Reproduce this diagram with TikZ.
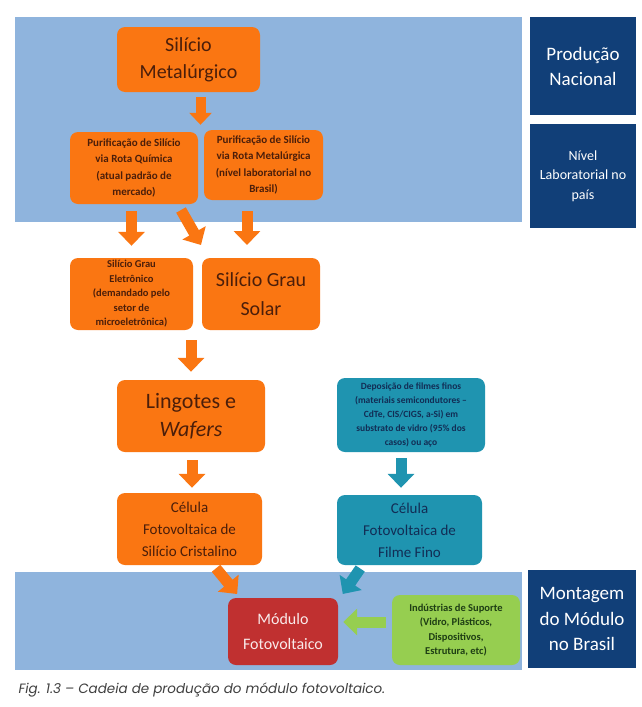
\documentclass[tikz,border=0pt]{standalone}
\usepackage{fontspec}
\setmainfont{Carlito}
\newfontfamily\legenda{Poppins}
\usetikzlibrary{positioning,arrows.meta}

\definecolor{faixa}{RGB}{143,180,221}
\definecolor{marinho}{RGB}{17,63,120}
\definecolor{laranja}{RGB}{250,118,18}
\definecolor{petroleo}{RGB}{31,148,176}
\definecolor{vinho}{RGB}{192,48,48}
\definecolor{verde}{RGB}{150,206,80}
\definecolor{txtlaranja}{RGB}{75,30,10}
\definecolor{txtpetroleo}{RGB}{18,45,85}
\definecolor{txtverde}{RGB}{30,62,20}

\begin{document}
\begin{tikzpicture}[
        x=1pt, y=-1pt,
        caixa/.style={fill=laranja, rounded corners=8pt, align=center, text=txtlaranja, inner sep=2pt},
        caixa_azul/.style={caixa, fill=petroleo, text=txtpetroleo},
        rotulo/.style={fill=marinho, align=center, text=white, inner sep=2pt},
        miuda/.style={font=\fontsize{10.5}{14.5}\selectfont\bfseries},
        media/.style={font=\fontsize{15}{22}\selectfont},
        grande/.style={font=\fontsize{20}{27}\selectfont},
        seta/.style={line width=11pt, draw=laranja, -{Triangle[width=26pt,length=14pt]}},
        seta_azul/.style={seta, draw=petroleo},
        seta_verde/.style={seta, draw=verde}
    ]
    \useasboundingbox[fill=white] (0,0) rectangle (641,707);

    % Faixas de fundo
    \fill[faixa] (15,17) rectangle (522,222);
    \fill[faixa] (15,572) rectangle (522,670);

    % Rotulos da direita
    \node[rotulo, minimum width=106, minimum height=98, font=\fontsize{19}{25}\selectfont] (pn) at (583,66) {Produção\\Nacional};
    \node[rotulo, minimum width=106, minimum height=104, font=\fontsize{14}{19.5}\selectfont] (nl) at (583,176) {Nível\\Laboratorial no\\país};
    \node[rotulo, minimum width=108, minimum height=98, font=\fontsize{19}{25.5}\selectfont] (mb) at (582,619) {Montagem\\do Módulo\\no Brasil};

    % Silicio
    \node[caixa, grande, minimum width=143, minimum height=65] (sm) at (188.5,59.5) {Silício\\Metalúrgico};
    \node[caixa, minimum width=128, minimum height=72, font=\fontsize{11}{16.5}\selectfont\bfseries] (pq) at (134,168) {Purificação de Silício\\via Rota Química\\(atual padrão de\\mercado)};
    \node[caixa, minimum width=119, minimum height=70, font=\fontsize{11}{16.5}\selectfont\bfseries] (pm) at (263.5,165) {Purificação de Silício\\via Rota Metalúrgica\\(nível laboratorial no\\Brasil)};
    \node[caixa, miuda, minimum width=123, minimum height=72] (ge) at (131.5,294) {Silício Grau\\Eletrônico\\(demandado pelo\\setor de\\microeletrônica)};
    \node[caixa, minimum width=118, minimum height=72, font=\fontsize{20}{29}\selectfont] (gs) at (261,294) {Silício Grau\\Solar};

    % Lingotes e celulas
    \node[caixa, minimum width=148, minimum height=72, font=\fontsize{22}{28}\selectfont] (lw) at (191,416) {Lingotes e\\\textit{Wafers}};
    \node[caixa, media, minimum width=145, minimum height=72] (cc) at (189.5,529) {Célula\\Fotovoltaica de\\Silício Cristalino};
    \node[caixa_azul, minimum width=148, minimum height=74, font=\fontsize{9.5}{14}\selectfont\bfseries] (df) at (411,415) {Deposição de filmes finos\\(materiais semicondutores –\\CdTe, CIS/CIGS, a-Si) em\\substrato de vidro (95\% dos\\casos) ou aço};
    \node[caixa_azul, media, minimum width=145, minimum height=70] (cf) at (409.5,530) {Célula\\Fotovoltaica de\\Filme Fino};

    % Modulo
    \node[caixa, fill=vinho, text=white!90!vinho, minimum width=110, minimum height=67, font=\fontsize{16}{25}\selectfont] (mf) at (283,631.5) {Módulo\\Fotovoltaico};
    \node[caixa, fill=verde, text=txtverde, miuda, minimum width=128, minimum height=70] (is) at (456,630) {Indústrias de Suporte\\(Vidro, Plásticos,\\Dispositivos,\\Estrutura, etc)};

    % Setas
    \coordinate (d1) at (181,210);
    \coordinate (d2) at (201,245);
    \coordinate (p1) at (247,211);
    \coordinate (p2) at (247,245);
    \draw[seta, line width=10pt, -{Triangle[width=22pt,length=12pt]}, shorten <=5pt, shorten >=5pt] ([xshift=12pt]sm.south) -- ([xshift=12pt]sm.south |- pm.north);
    \draw[seta, shorten <=7pt, shorten >=12pt] (ge.north |- pq.south) -- (ge.north);
    \draw[seta] (d1) -- (d2);
    \draw[seta] (p1) -- (p2);
    \draw[seta, shorten <=10pt, shorten >=8pt] (lw.north |- gs.south) -- (lw.north);
    \draw[seta, shorten <=8pt, shorten >=5pt] ([xshift=1pt]lw.south) -- ([xshift=1pt]lw.south |- cc.north);
    \draw[seta_azul, shorten <=6pt, shorten >=7pt] ([xshift=-10pt]df.south) -- ([xshift=-10pt]df.south |- cf.north);
    \draw[seta, shorten <=4pt, shorten >=1pt] ([xshift=24pt]cc.south) -- ([xshift=10pt,yshift=3pt]mf.north west);
    \draw[seta_azul, shorten <=4pt, shorten >=1pt] ([xshift=-47pt]cf.south) -- ([xshift=4pt,yshift=3pt]mf.north east);
    \draw[seta_verde, shorten <=6pt, shorten >=5pt] ([yshift=8pt]is.west) -- ([yshift=8pt]is.west -| mf.east);

    % Legenda
    \node[anchor=base west, text=black!75, font=\legenda\itshape\fontsize{13.5}{16}\selectfont] (leg) at (15,693) {Fig. 1.3 – Cadeia de produção do módulo fotovoltaico.};
\end{tikzpicture}
\end{document}
